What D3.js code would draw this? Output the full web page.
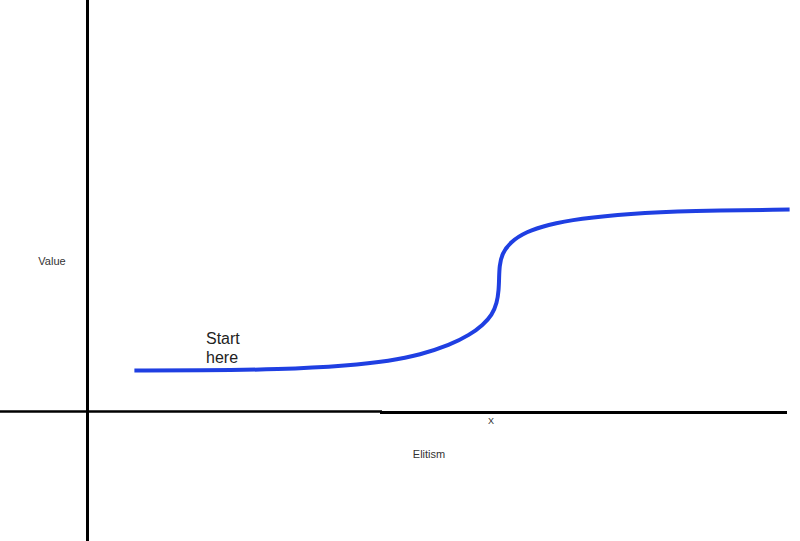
<!DOCTYPE html>
<html>
<head>
<meta charset="utf-8">
<script src="https://cdn.jsdelivr.net/npm/d3@7"></script>
<style>
  html, body { margin: 0; padding: 0; background: #fff; }
  svg { display: block; }
  text { font-family: "Liberation Sans", Arial, Helvetica, sans-serif; }
</style>
</head>
<body>
<svg id="chart" width="800" height="541"></svg>
<script>
// Data (elitism on x, value on y)
const elitism = [6.7, 16, 27.4, 37.4, 43.2, 47.5, 51.8, 54.6, 56.5, 57.8, 58.5, 58.75, 58.8, 58.85, 59.2, 60.4, 62.7, 65.6, 70.3, 77.4, 86, 100.3];
const valueSeries = [2.05, 2.05, 2.1, 2.3, 2.53, 2.83, 3.33, 3.83, 4.33, 4.83, 5.43, 6.08, 6.68, 7.28, 7.88, 8.48, 8.99, 9.33, 9.65, 9.9, 10.03, 10.1];
const xAxisTitle = "Elitism";
const yAxisTitle = "Value";
const xMarker = "X";
const startLabel = ["Start", "here"];

const svg = d3.select("#chart");
const x = d3.scaleLinear().domain([0, 100]).range([87.5, 787.5]);
const y = d3.scaleLinear().domain([0, 10]).range([411.5, 211.5]);

// vertical axis
svg.append("line")
  .attr("x1", x(0)).attr("x2", x(0))
  .attr("y1", 0).attr("y2", 541)
  .attr("stroke", "#000").attr("stroke-width", 3);

// horizontal axis (two hand-drawn segments)
svg.append("line")
  .attr("x1", 0).attr("x2", 382)
  .attr("y1", y(0)).attr("y2", y(0))
  .attr("stroke", "#000").attr("stroke-width", 2.5);
svg.append("line")
  .attr("x1", 380).attr("x2", x(100) - 0.5)
  .attr("y1", y(0) + 1).attr("y2", y(0) + 1)
  .attr("stroke", "#000").attr("stroke-width", 3);

// curve
const pts = elitism.map((e, i) => [e, valueSeries[i]]);
const line = d3.line()
  .x(d => x(d[0])).y(d => y(d[1]))
  .curve(d3.curveBasis);
svg.append("path")
  .datum(pts)
  .attr("d", line)
  .attr("fill", "none")
  .attr("stroke", "#1f3fe2")
  .attr("stroke-width", 4)
  .attr("stroke-linecap", "butt");

// labels
svg.append("text")
  .attr("x", 52).attr("y", 265)
  .attr("text-anchor", "middle")
  .attr("font-size", 11).attr("fill", "#333")
  .text(yAxisTitle);

svg.append("text")
  .attr("x", 429).attr("y", 458)
  .attr("text-anchor", "middle")
  .attr("font-size", 11).attr("fill", "#333")
  .text(xAxisTitle);

svg.append("text")
  .attr("x", 491).attr("y", 424)
  .attr("text-anchor", "middle")
  .attr("font-size", 9).attr("fill", "#333")
  .text(xMarker);

const st = svg.append("text")
  .attr("x", 206).attr("y", 344)
  .attr("font-size", 16).attr("fill", "#222");
startLabel.forEach((t, i) => {
  st.append("tspan").attr("x", 206).attr("dy", i === 0 ? 0 : 19.3).text(t);
});
</script>
</body>
</html>
